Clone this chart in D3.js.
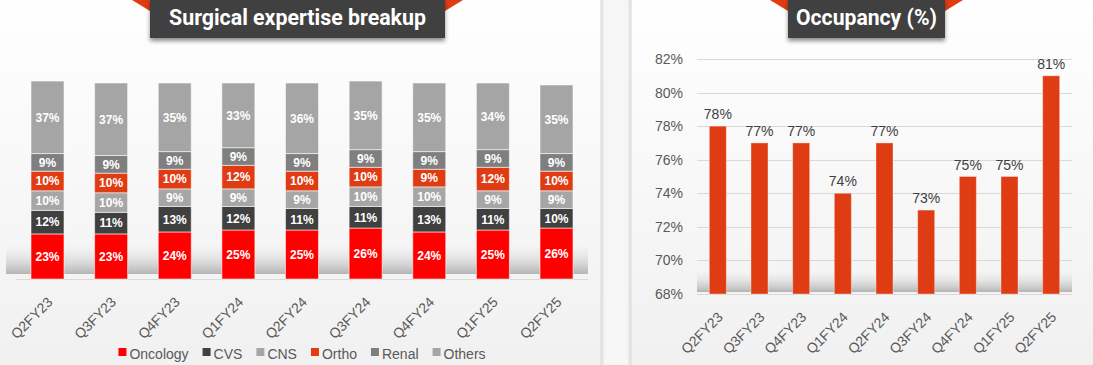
<!DOCTYPE html>
<html>
<head>
<meta charset="utf-8">
<script src="https://cdn.jsdelivr.net/npm/d3@7"></script>
<style>
  html, body { margin: 0; padding: 0; background: #f4f4f4; }
  svg { display: block; }
</style>
</head>
<body>
<svg id="chart" width="1093" height="365"></svg>
<script>
// ---------- DATA ----------
const categories = ["Q2FY23","Q3FY23","Q4FY23","Q1FY24","Q2FY24","Q3FY24","Q4FY24","Q1FY25","Q2FY25"];
const oncology = [23,23,24,25,25,26,24,25,26];
const cvs      = [12,11,13,12,11,11,13,11,10];
const cns      = [10,10,9,9,9,10,10,9,9];
const ortho    = [10,10,10,12,10,10,9,12,10];
const renal    = [9,9,9,9,9,9,9,9,9];
const others   = [37,37,35,33,36,35,35,34,35];
const seriesNames = ["Oncology","CVS","CNS","Ortho","Renal","Others"];
const occupancy = [78,77,77,74,77,73,75,75,81];
const occTicks = [68,70,72,74,76,78,80,82];
const leftTitle = "Surgical expertise breakup";
const rightTitle = "Occupancy (%)";

// ---------- STYLE ----------
const colors = {Oncology:"#ff0000", CVS:"#404040", CNS:"#a6a6a6", Ortho:"#e03c14", Renal:"#7f7f7f", Others:"#a5a5a5"};
const FONT = "'Liberation Sans', Arial, sans-serif";
const TFONT = "Roboto, 'Liberation Sans', sans-serif";

const svg = d3.select("#chart");
const defs = svg.append("defs");

// background gradients
const bg = defs.append("linearGradient").attr("id","panelBg").attr("x1",0).attr("y1",0).attr("x2",0).attr("y2",1);
bg.append("stop").attr("offset","0%").attr("stop-color","#ffffff");
bg.append("stop").attr("offset","100%").attr("stop-color","#f0f0f0");
const floor = defs.append("linearGradient").attr("id","floorG").attr("x1",0).attr("y1",0).attr("x2",0).attr("y2",1);
floor.append("stop").attr("offset","0%").attr("stop-color","#ffffff").attr("stop-opacity",0);
floor.append("stop").attr("offset","100%").attr("stop-color","#b4b4b4").attr("stop-opacity",1);
const sh = defs.append("filter").attr("id","shadow").attr("x","-20%").attr("y","-20%").attr("width","140%").attr("height","160%");
sh.append("feDropShadow").attr("dx",0).attr("dy",3).attr("stdDeviation",2).attr("flood-color","#000").attr("flood-opacity",0.45);
const cardSh = defs.append("filter").attr("id","cardShadow").attr("x","-5%").attr("y","-5%").attr("width","110%").attr("height","110%");
cardSh.append("feDropShadow").attr("dx",0).attr("dy",0).attr("stdDeviation",1.5).attr("flood-color","#000").attr("flood-opacity",0.25);

// page background
svg.append("rect").attr("x",0).attr("y",0).attr("width",1093).attr("height",365).attr("fill","#f6f6f6");
// cards
svg.append("rect").attr("x",-12).attr("y",-12).attr("width",613).attr("height",390).attr("rx",10)
  .attr("fill","url(#panelBg)").attr("stroke","#e2e2e2").attr("stroke-width",1.5).attr("filter","url(#cardShadow)");
svg.append("rect").attr("x",631).attr("y",-8).attr("width",480).attr("height",390).attr("rx",10)
  .attr("fill","url(#panelBg)").attr("stroke","#e2e2e2").attr("stroke-width",1.5).attr("filter","url(#cardShadow)");

// ---------- title banners ----------
function banner(x0, x1, text, baseline, targetW) {
  const g = svg.append("g");
  g.append("polygon").attr("points", `${x0-18},0 ${x0},0 ${x0},11`).attr("fill","#e03c14");
  g.append("polygon").attr("points", `${x1},0 ${x1+18},0 ${x1},11`).attr("fill","#e03c14");
  g.append("rect").attr("x",x0).attr("y",-2).attr("width",x1-x0).attr("height",40).attr("fill","#404040").attr("filter","url(#shadow)");
  const t = g.append("text").attr("x",(x0+x1)/2).attr("y",baseline).attr("text-anchor","middle")
    .attr("font-family",TFONT).attr("font-weight","bold").attr("font-size",20).attr("fill","#ffffff").text(text);
  const w = t.node().getComputedTextLength();
  if (w > 0) t.attr("font-size", Math.min(22, 20*targetW/w));
}
banner(150, 445, leftTitle, 25, 257);
banner(788, 945, rightTitle, 25, 141);

// ---------- LEFT: stacked bars ----------
const lx = d3.scaleBand().domain(categories).range([16,588]).paddingInner(0.4813).paddingOuter(0.2357);
const ly = d3.scaleLinear().domain([0,100]).range([279,83]);
const rows = categories.map((c,i)=>({cat:c, Oncology:oncology[i], CVS:cvs[i], CNS:cns[i], Ortho:ortho[i], Renal:renal[i], Others:others[i]}));
const stacked = d3.stack().keys(seriesNames)(rows);

svg.append("rect").attr("x",6).attr("y",238).attr("width",582).attr("height",36).attr("fill","url(#floorG)");
svg.append("line").attr("x1",16).attr("x2",588).attr("y1",ly(0)+0.5).attr("y2",ly(0)+0.5).attr("stroke","#d9d9d9").attr("stroke-width",1);

const lg = svg.append("g");
stacked.forEach(layer => {
  const g = lg.append("g");
  g.selectAll("rect").data(layer).join("rect")
    .attr("x", d => lx(d.data.cat))
    .attr("y", d => ly(d[1]))
    .attr("width", lx.bandwidth())
    .attr("height", d => ly(d[0]) - ly(d[1]))
    .attr("fill", colors[layer.key])
    .attr("stroke", "rgba(255,255,255,0.55)").attr("stroke-width", 1);
  g.selectAll("text").data(layer).join("text")
    .attr("x", d => lx(d.data.cat) + lx.bandwidth()/2)
    .attr("y", d => (ly(d[0]) + ly(d[1]))/2)
    .attr("dy","0.36em").attr("text-anchor","middle")
    .attr("font-family",FONT).attr("font-weight","bold").attr("font-size",12).attr("fill","#ffffff")
    .text(d => (d[1]-d[0]) + "%");
});

// left x-axis labels
const lxAxis = d3.axisBottom(lx).tickSize(0).tickPadding(0);
const lAxisG = svg.append("g").attr("transform","translate(0,279)").call(lxAxis);
lAxisG.select(".domain").remove();
lAxisG.selectAll("text")
  .attr("font-family",FONT).attr("font-size",14).attr("fill","#595959")
  .attr("text-anchor","end").attr("dy",0).attr("y",0)
  .attr("transform","translate(6,24) rotate(-45)");

// legend
const legend = svg.append("g").attr("font-family",FONT).attr("font-size",14).attr("fill","#595959");
let lxPos = 0;
const items = [];
seriesNames.forEach(n => {
  const it = legend.append("g");
  it.append("rect").attr("x",0).attr("y",-6).attr("width",8).attr("height",8).attr("fill",colors[n]);
  const t = it.append("text").attr("x",11).attr("y",0).attr("dy","0.36em").text(n);
  items.push({g:it, w: 11 + t.node().getComputedTextLength()});
});
items.forEach(o => { o.g.attr("transform", `translate(${lxPos},0)`); lxPos += o.w + 14; });
const totalW = lxPos - 14;
legend.attr("transform", `translate(${302 - totalW/2},354)`);

// ---------- RIGHT: occupancy bars ----------
const rx = d3.scaleBand().domain(categories).range([697,1072]).paddingInner(0.592).paddingOuter(0.296);
const ry = d3.scaleLinear().domain([68,82]).range([294,59]);

svg.append("rect").attr("x",697).attr("y",266).attr("width",375).attr("height",26).attr("fill","url(#floorG)");

const grid = svg.append("g");
grid.selectAll("line").data(occTicks).join("line")
  .attr("x1",697).attr("x2",1072).attr("y1",d=>Math.round(ry(d))+0.5).attr("y2",d=>Math.round(ry(d))+0.5)
  .attr("stroke","#d9d9d9").attr("stroke-width",1);

const ryAxis = d3.axisLeft(ry).tickValues(occTicks).tickFormat(d => d + "%").tickSize(0).tickPadding(0);
const ryG = svg.append("g").attr("transform","translate(683,0)").call(ryAxis);
ryG.select(".domain").remove();
ryG.selectAll("text").attr("font-family",FONT).attr("font-size",14).attr("fill","#595959");

svg.append("g").selectAll("rect").data(occupancy).join("rect")
  .attr("x",(d,i)=>rx(categories[i]))
  .attr("y",d=>ry(d))
  .attr("width",rx.bandwidth())
  .attr("height",d=>ry(68)-ry(d))
  .attr("fill","#e03c14").attr("stroke","rgba(255,255,255,0.35)").attr("stroke-width",1);

svg.append("g").selectAll("text").data(occupancy).join("text")
  .attr("x",(d,i)=>rx(categories[i]) + rx.bandwidth()/2)
  .attr("y",d=>ry(d) - 7)
  .attr("text-anchor","middle")
  .attr("font-family",FONT).attr("font-size",14).attr("fill","#404040")
  .text(d => d + "%");

const rxAxis = d3.axisBottom(rx).tickSize(0).tickPadding(0);
const rxG = svg.append("g").attr("transform","translate(0,294)").call(rxAxis);
rxG.select(".domain").remove();
rxG.selectAll("text")
  .attr("font-family",FONT).attr("font-size",14).attr("fill","#595959")
  .attr("text-anchor","end").attr("dy",0).attr("y",0)
  .attr("transform","translate(6,24) rotate(-45)");
</script>
</body>
</html>
